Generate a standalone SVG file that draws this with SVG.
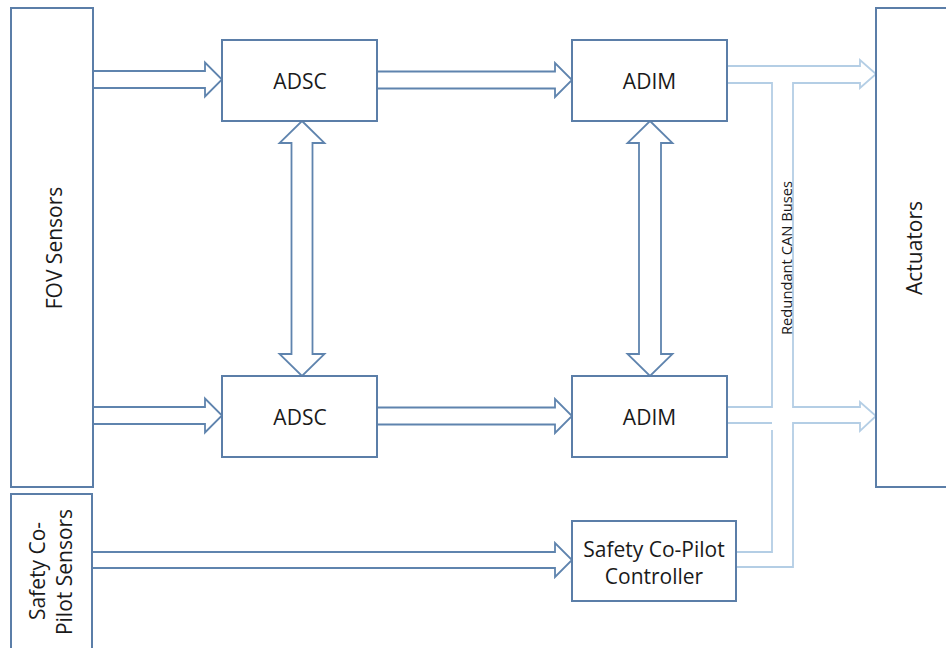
<svg xmlns="http://www.w3.org/2000/svg" width="946" height="648" viewBox="0 0 946 648">
<style>
.box{fill:#ffffff;stroke:#5b7ea8;stroke-width:2}
.arr{fill:#ffffff;stroke:#5f84ae;stroke-width:1.8;stroke-linejoin:miter}
.can{fill:none;stroke:#b4cee5;stroke-width:1.8}
.t{font-family:"Open Sans","Liberation Sans",sans-serif;font-size:21px;fill:#1a1a1a}
.s{font-family:"Open Sans","Liberation Sans",sans-serif;font-size:14px;fill:#1a1a1a}
</style>
<rect x="0" y="0" width="946" height="648" fill="#ffffff"/>
<g id="connectors">
<polygon class="arr" points="93,71 205,71 205,62.5 222,79.5 205,96.5 205,88 93,88"/>
<polygon class="arr" points="377,71.5 555,71.5 555,63 572,80 555,97 555,88.5 377,88.5"/>
<polygon class="arr" points="93,407 205,407 205,398.5 222,415.5 205,432.5 205,424 93,424"/>
<polygon class="arr" points="377,407.5 555,407.5 555,399 572,416 555,433 555,424.5 377,424.5"/>
<polygon class="arr" points="92,552 555,552 555,543 572,560 555,577 555,568 92,568"/>
<polygon class="arr" points="302,121 324.5,143 312.5,143 312.5,354 324.5,354 302,376 279.5,354 291.5,354 291.5,143 279.5,143"/>
<polygon class="arr" points="650,121 672.5,143 661,143 661,354 672.5,354 650,376 627.5,354 639,354 639,143 627.5,143"/>
<path class="can" d="M727,66 H860 V60 L876,74 L860,88 V83 H793 V407 H860 V402 L876,416 L860,431 V423 H793 V567 H736"/>
<path class="can" d="M727,83 H772 V407 H727"/>
<path class="can" d="M727,423 H772"/>
<path class="can" d="M772,430 V552 H736"/>
<text class="s" transform="translate(792,335) rotate(-90)" textLength="154" lengthAdjust="spacingAndGlyphs">Redundant CAN Buses</text>
</g>
<g id="fov-sensors">
<rect class="box" x="11" y="8" width="82" height="479"/>
<text class="t" text-anchor="middle" transform="translate(62,248) rotate(-90)">FOV Sensors</text>
</g>
<g id="safety-sensors">
<rect class="box" x="11" y="494" width="81" height="170"/>
<text class="t" text-anchor="middle" transform="translate(45,571) rotate(-90)">Safety Co-</text>
<text class="t" text-anchor="middle" transform="translate(72,572) rotate(-90)">Pilot Sensors</text>
</g>
<g id="adsc-top">
<rect class="box" x="222" y="40" width="155" height="81"/>
<text class="t" text-anchor="middle" x="300" y="89">ADSC</text>
</g>
<g id="adim-top">
<rect class="box" x="572" y="40" width="155" height="81"/>
<text class="t" text-anchor="middle" x="649.5" y="89">ADIM</text>
</g>
<g id="adsc-bottom">
<rect class="box" x="222" y="376" width="155" height="81"/>
<text class="t" text-anchor="middle" x="300" y="425">ADSC</text>
</g>
<g id="adim-bottom">
<rect class="box" x="572" y="376" width="155" height="81"/>
<text class="t" text-anchor="middle" x="649.5" y="425">ADIM</text>
</g>
<g id="safety-controller">
<rect class="box" x="572" y="521" width="164" height="80"/>
<text class="t" text-anchor="middle" x="654" y="557">Safety Co-Pilot</text>
<text class="t" text-anchor="middle" x="654" y="584">Controller</text>
</g>
<g id="actuators">
<rect class="box" x="876" y="8" width="90" height="479"/>
<text class="t" text-anchor="middle" transform="translate(922,248) rotate(-90)">Actuators</text>
</g>
</svg>
